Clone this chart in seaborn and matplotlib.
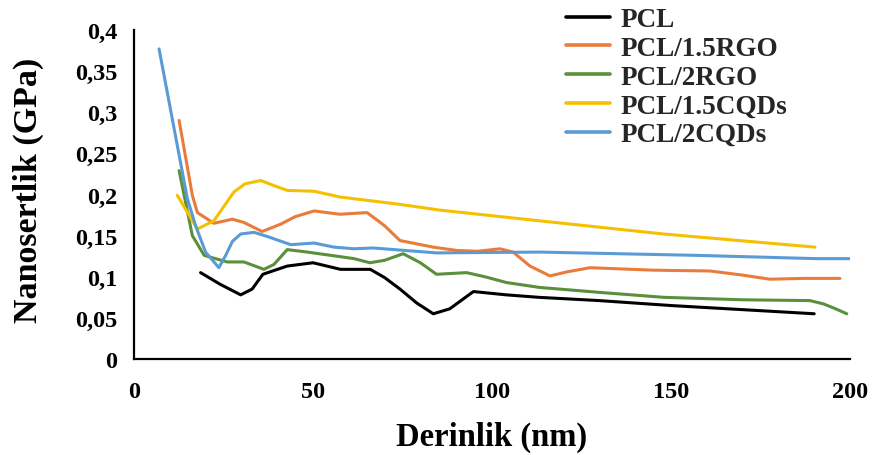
import matplotlib
matplotlib.use("Agg")
import matplotlib.pyplot as plt
import seaborn as sns
import pandas as pd

sns.set_theme(style="white")
plt.rcParams['font.family'] = ['Liberation Serif', 'DejaVu Serif']
plt.rcParams['font.weight'] = 'bold'

series_names = ["PCL", "PCL/1.5RGO", "PCL/2RGO", "PCL/1.5CQDs", "PCL/2CQDs"]
colors = ["#000000", "#E97C3A", "#5A8F3C", "#F5C000", "#5B9BD5"]

pcl_x = [18.6, 24, 29.8, 33, 36, 42.8, 50, 57.7, 66, 70, 74.3, 79, 83.6, 88.2, 94.8, 104, 113, 130, 150, 170, 190]
pcl_y = [0.105, 0.091, 0.078, 0.085, 0.103, 0.113, 0.117, 0.109, 0.109, 0.099, 0.085, 0.068, 0.055, 0.061, 0.082, 0.078, 0.075, 0.071, 0.065, 0.060, 0.055]

rgo15_x = [12.6, 16.3, 17.7, 22.3, 27.5, 30.7, 35.8, 41, 45, 50.3, 57.5, 65.1, 70, 74.3, 83.6, 90.1, 96, 102.2, 105.9, 110.6, 116.2, 121, 127.4, 145, 160.9, 170, 177.6, 187, 197.2]
rgo15_y = [0.290, 0.199, 0.178, 0.165, 0.170, 0.166, 0.155, 0.164, 0.173, 0.180, 0.176, 0.178, 0.162, 0.144, 0.136, 0.132, 0.131, 0.134, 0.130, 0.113, 0.101, 0.106, 0.111, 0.108, 0.107, 0.102, 0.097, 0.098, 0.098]

rgo2_x = [12.6, 16.3, 19.6, 26, 30.7, 36.3, 39.1, 42.8, 48.4, 55, 61.5, 65.9, 70, 75.2, 80, 84.5, 92.9, 98, 104, 113.3, 130, 147.9, 170, 188.8, 192.6, 196, 199.1]
rgo2_y = [0.229, 0.150, 0.126, 0.118, 0.118, 0.109, 0.115, 0.133, 0.130, 0.126, 0.122, 0.117, 0.120, 0.128, 0.117, 0.103, 0.105, 0.100, 0.093, 0.087, 0.081, 0.075, 0.072, 0.071, 0.067, 0.061, 0.055]

cqd15_x = [12.1, 17.7, 22.3, 27.9, 31, 35.4, 39, 42.8, 50.3, 57.5, 74.3, 85.5, 113.3, 147.9, 190.2]
cqd15_y = [0.199, 0.158, 0.168, 0.203, 0.213, 0.217, 0.211, 0.205, 0.204, 0.197, 0.188, 0.181, 0.168, 0.152, 0.136]

cqd2_x = [7, 14.9, 17.2, 20, 23.7, 25.6, 27.5, 29.8, 33.5, 37.2, 43.8, 50.3, 55.9, 61.5, 66.8, 84.5, 113.3, 157.2, 190.7, 200]
cqd2_y = [0.377, 0.195, 0.162, 0.130, 0.111, 0.126, 0.143, 0.152, 0.154, 0.149, 0.139, 0.141, 0.136, 0.134, 0.135, 0.129, 0.130, 0.126, 0.122, 0.122]

x_ticks = [0, 50, 100, 150, 200]
y_ticks = [0, 0.05, 0.1, 0.15, 0.2, 0.25, 0.3, 0.35, 0.4]
y_tick_labels = ["0", "0,05", "0,1", "0,15", "0,2", "0,25", "0,3", "0,35", "0,4"]
x_label = "Derinlik (nm)"
y_label = "Nanosertlik (GPa)"

all_x = [pcl_x, rgo15_x, rgo2_x, cqd15_x, cqd2_x]
all_y = [pcl_y, rgo15_y, rgo2_y, cqd15_y, cqd2_y]
frames = []
for name, xs, ys in zip(series_names, all_x, all_y):
    frames.append(pd.DataFrame({"x": xs, "y": ys, "series": name}))
df = pd.concat(frames, ignore_index=True)

fig = plt.figure(figsize=(8.72, 4.56), dpi=100)
ax = fig.add_axes([134/872, 1-360/456, (850-134)/872, (360-31)/456])

sns.lineplot(data=df, x="x", y="y", hue="series", hue_order=series_names,
             palette=colors, sort=False, linewidth=2.2, ax=ax, estimator=None,
             units="series")

ax.set_xlim(0, 200)
ax.set_ylim(0, 0.4)
ax.set_xticks(x_ticks)
ax.set_xticklabels([str(t) for t in x_ticks])
ax.set_yticks(y_ticks)
ax.set_yticklabels(y_tick_labels)
for s in ["top", "right"]:
    ax.spines[s].set_visible(False)
for s in ["left", "bottom"]:
    ax.spines[s].set_color("black")
    ax.spines[s].set_linewidth(1.6)
ax.tick_params(axis="both", direction="inout", length=14, width=1.5, color="black",
               labelsize=17.5, labelcolor="black")
ax.tick_params(axis="y", pad=5)
ax.tick_params(axis="x", pad=9)
for lbl in ax.get_xticklabels() + ax.get_yticklabels():
    lbl.set_fontweight("bold")

ax.set_xlabel(x_label, fontsize=23.5, fontweight="bold", color="black")
ax.set_ylabel(y_label, fontsize=24.5, fontweight="bold", color="black")
ax.xaxis.set_label_coords(0.5, -0.234)
ax.yaxis.set_label_coords(-0.148, 0.515)
ax.xaxis.label.set_va("center")
ax.yaxis.label.set_va("center")
ax.grid(False)

leg = ax.legend(loc="upper left", bbox_to_anchor=(550/872, 1.018), bbox_transform=fig.transFigure,
                frameon=False, fontsize=19.5, handlelength=1.6, handletextpad=0.4,
                labelspacing=0.14, borderaxespad=0.2)
for t in leg.get_texts():
    t.set_fontweight("bold")
for l in leg.get_lines():
    l.set_linewidth(2.6)

fig.savefig("out.png", dpi=100)
